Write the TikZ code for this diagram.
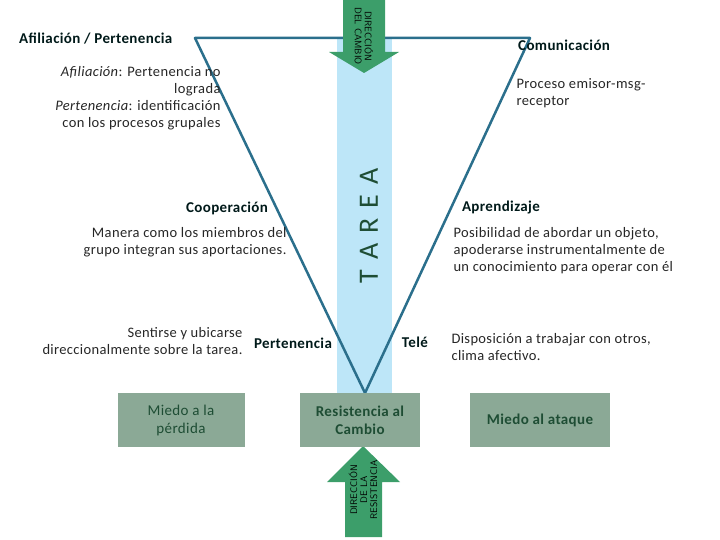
\documentclass[tikz,border=0pt]{standalone}
\usepackage{fontspec}
\setmainfont{Carlito}[LetterSpace=2.5]
\begin{document}
\begin{tikzpicture}[x=1pt,y=-1pt,
  lab/.style={font=\fontsize{14.5}{17}\selectfont, text=black!85},
  hd/.style={font=\fontsize{15}{17}\selectfont\bfseries, text=black!80!teal},
  box/.style={fill=boxc, minimum width=#1, minimum height=54pt, align=center, font=\fontsize{15}{18}\selectfont, text=dgreen},
  tiny/.style={font=\fontsize{9.5}{10}\selectfont\sffamily, align=center, text=black}]
\definecolor{boxc}{HTML}{8BA996}
\definecolor{dgreen}{HTML}{1E4D34}
\definecolor{arrowc}{HTML}{3C9E6A}
\definecolor{linec}{HTML}{2B6F8C}
\definecolor{lblue}{HTML}{BDE6F8}
\useasboundingbox (0,0) rectangle (720,540);
\fill[lblue] (337,38) rectangle (392,395);
\draw[linec, line width=2.5pt, line join=round] (195,38) -- (530,38) -- (365,393) -- cycle;
% top arrow
\fill[arrowc] (343,0) -- (385,0) -- (385,52) -- (399,52) -- (364,73) -- (329,52) -- (343,52) -- cycle;
\node[tiny, rotate=-90] (dc) at (364,36) {DIRECCIÓN\\DEL CAMBIO};
% bottom arrow
\fill[arrowc] (345,537) -- (382,537) -- (382,482) -- (400,482) -- (363,446) -- (327,482) -- (345,482) -- cycle;
\node[tiny, rotate=90] (dr) at (363,490) {DIRECCIÓN\\DE LA\\RESISTENCIA};
\node[rotate=90, font=\fontsize{28}{30}\selectfont\rmfamily, text=dgreen] (tarea) at (369,226) {T\hspace{10pt}A\hspace{10pt}R\hspace{10pt}E\hspace{10pt}A};
% boxes
\node[box=127pt] (mp) at (181,420) {Miedo a la\\pérdida};
\node[box=120pt, font=\fontsize{15}{18}\selectfont\bfseries] (rc) at (360,420) {Resistencia al\\Cambio};
\node[box=140pt, font=\fontsize{15}{18}\selectfont\bfseries] (ma) at (540,420) {Miedo al ataque};
% headings
\node[hd, anchor=west, inner sep=0pt] (af) at (19,39) {Afiliación / Pertenencia};
\node[hd, anchor=west, inner sep=0pt] (com) at (518,45) {Comunicación};
\node[hd] (coop) at (227,208) {Cooperación};
\node[hd] (apr) at (501,208) {Aprendizaje};
\node[hd] (per) at (293,343) {Pertenencia};
\node[hd] (tele) at (415,342) {Telé};
% texts
\node[lab, align=right, anchor=north east] (t1) at (224,63) {\textit{Afiliación}: Pertenencia no\\lograda\\\textit{Pertenencia}: identificación\\con los procesos grupales};
\node[lab, align=left, anchor=north west] (t2) at (513,75) {Proceso emisor-msg-\\receptor};
\node[lab, align=right, anchor=north east] (t3) at (290,224) {Manera como los miembros del\\grupo integran sus aportaciones.};
\node[lab, align=left, anchor=north west] (t4) at (450,224) {Posibilidad de abordar un objeto,\\apoderarse instrumentalmente de\\un conocimiento para operar con él};
\node[lab, align=right, anchor=north east] (t5) at (246,324) {Sentirse y ubicarse\\direccionalmente sobre la tarea.};
\node[lab, align=left, anchor=north west] (t6) at (448,330) {Disposición a trabajar con otros,\\clima afectivo.};
\end{tikzpicture}
\end{document}
